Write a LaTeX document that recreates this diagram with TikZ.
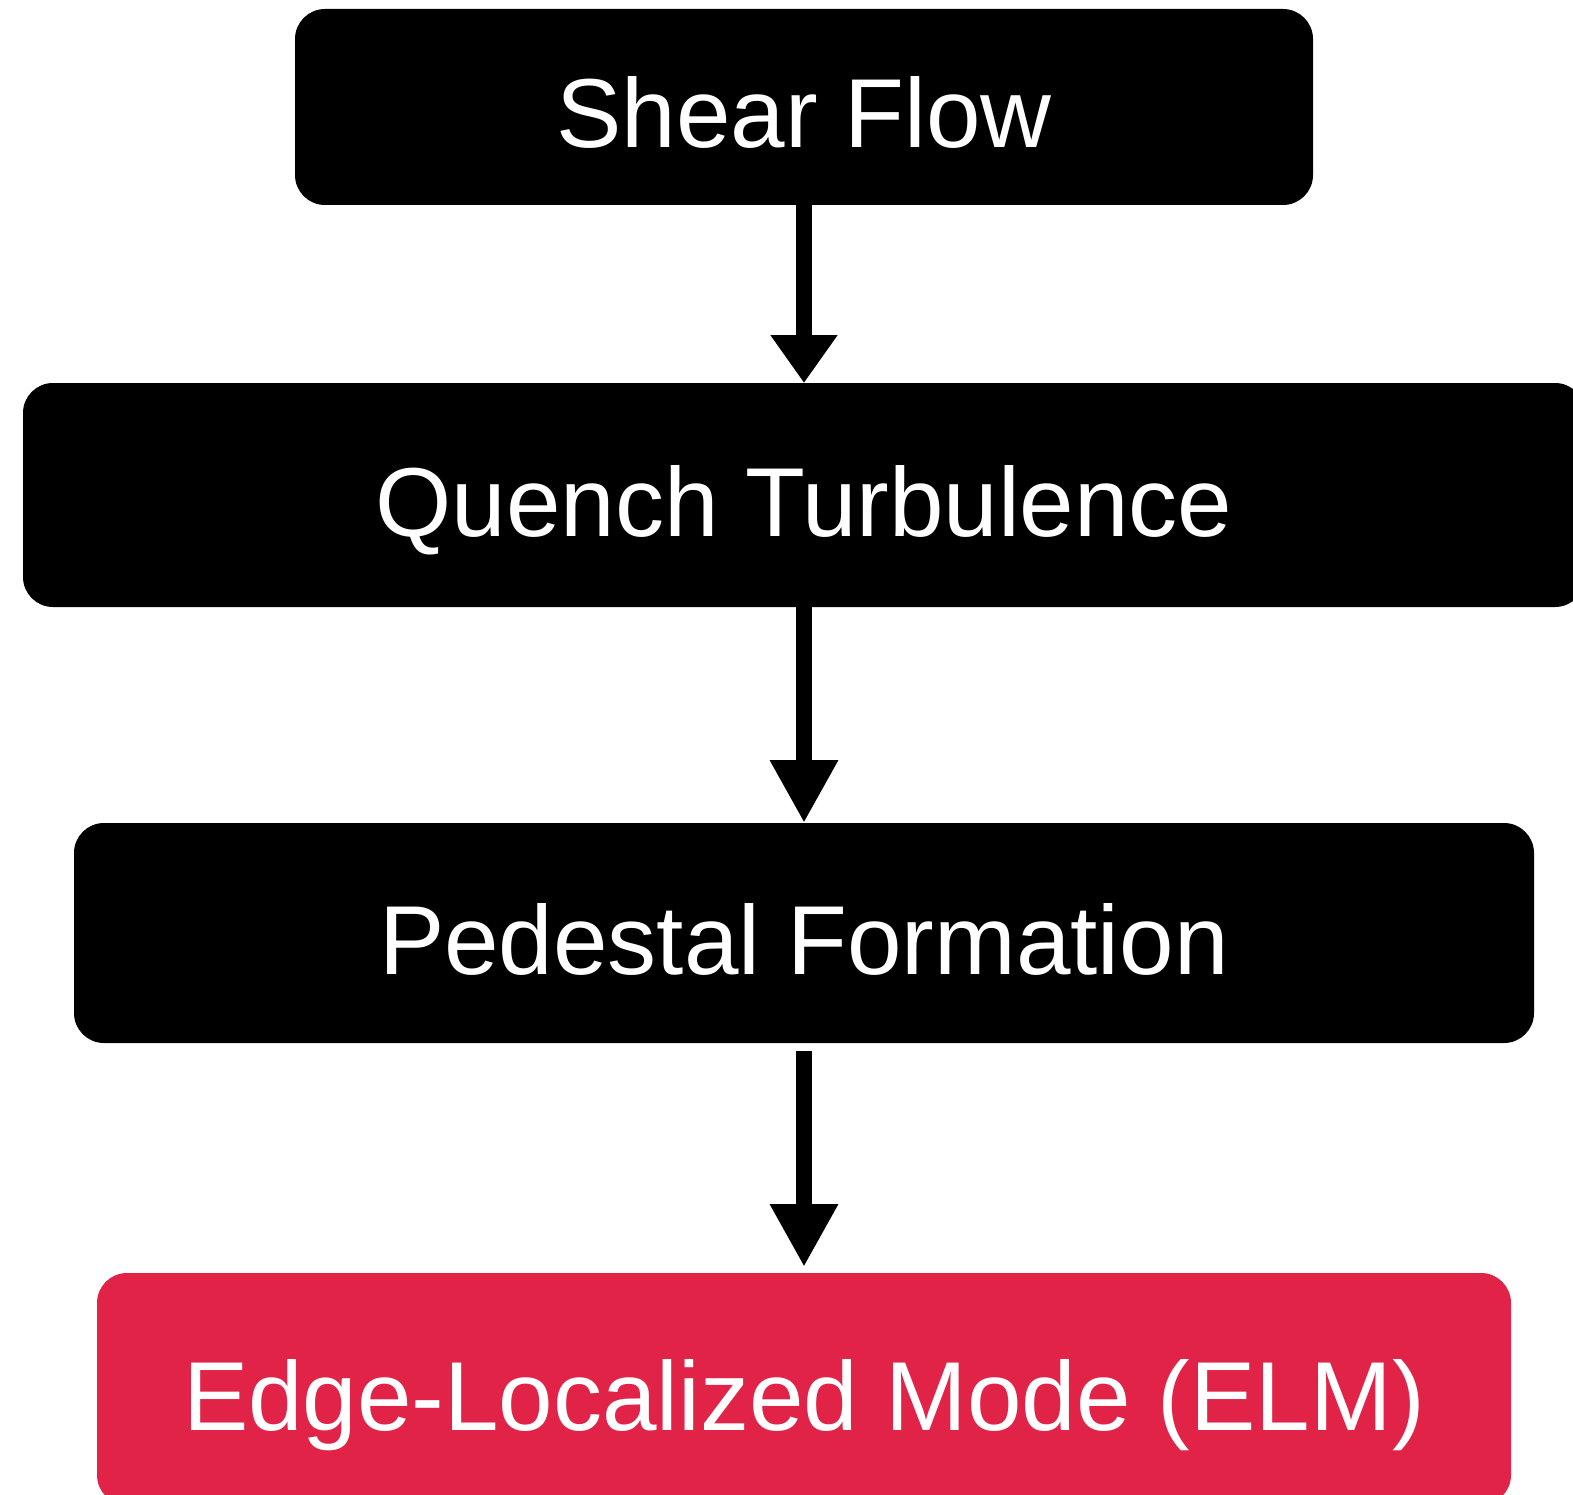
\documentclass[tikz,border=0pt]{standalone}
\usepackage{fontspec}
\setmainfont{Liberation Sans}
\usetikzlibrary{arrows.meta}
\definecolor{elmred}{RGB}{225,35,72}
\begin{document}
\begin{tikzpicture}[x=1pt,y=-1pt,
  box/.style={rounded corners=30pt, text=white, inner sep=0pt, outer sep=0pt,
    font=\fontsize{98}{110}\selectfont, text height=82pt, text depth=0pt},
  flow/.style={line width=16pt, draw=black, -{Triangle[width=64pt,length=#1]}},
  flow/.default=63pt]
\useasboundingbox (0,0) rectangle (1573,1495);
\clip (0,0) rectangle (1573,1495);
\node[box, fill=black, minimum width=1018pt, minimum height=196pt] (shear) at (804,107) {Shear Flow};
\node[box, fill=black, minimum width=1562pt, minimum height=224pt] (quench) at (804,495) {Quench Turbulence};
\node[box, fill=black, minimum width=1460pt, minimum height=220pt] (pedestal) at (804,933) {Pedestal Formation};
\node[box, fill=elmred, minimum width=1414pt, minimum height=232pt] (elm) at (804,1389) {Edge-Localized Mode (ELM)};
\draw[flow=48pt] (shear.south) -- (quench.north);
\draw[flow] (quench.south) -- (pedestal.north);
\draw[flow, shorten <=8pt, shorten >=6pt] (pedestal.south) -- (elm.north);
\end{tikzpicture}
\end{document}
